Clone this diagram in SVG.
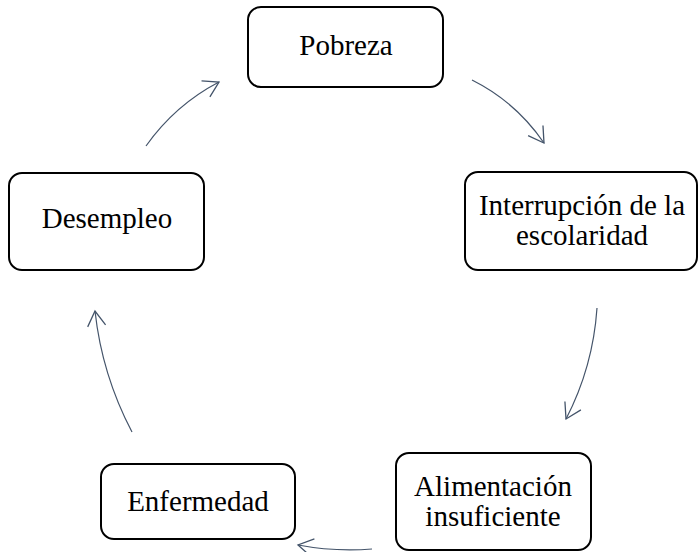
<svg xmlns="http://www.w3.org/2000/svg" width="698" height="552" viewBox="0 0 698 552">
<defs>
<style>
.box{fill:#fff;stroke:#000;stroke-width:2}
.t{font-family:"Liberation Serif","Times New Roman",serif;font-size:29px;fill:#000;text-anchor:middle}
.c{fill:none;stroke:#44546a;stroke-width:1.2}
</style>
<marker id="ah" markerUnits="userSpaceOnUse" markerWidth="30" markerHeight="30" viewBox="-20 -15 30 30" refX="0" refY="0" orient="auto" overflow="visible">
<path d="M-15,-9 L0,0 L-15,9" fill="none" stroke="#44546a" stroke-width="1.3"/>
</marker>
</defs>
<rect width="698" height="552" fill="#fff"/>
<g id="connectors">
<path class="c" d="M472,80 Q516,102 544,143" marker-end="url(#ah)"/>
<path class="c" d="M597,308 Q593,367 566,419" marker-end="url(#ah)"/>
<path class="c" d="M372,549 Q335,552 298,545" marker-end="url(#ah)"/>
<path class="c" d="M132,432 Q102,375 95,311" marker-end="url(#ah)"/>
<path class="c" d="M146,146 Q175,105 219,82" marker-end="url(#ah)"/>
</g>
<g id="pobreza">
<rect class="box" x="248" y="7" width="195" height="80" rx="13"/>
<text class="t" x="346" y="55">Pobreza</text>
</g>
<g id="interrupcion">
<rect class="box" x="465" y="172" width="232" height="98" rx="13"/>
<text class="t" x="582" y="215">Interrupción de la</text>
<text class="t" x="582" y="245">escolaridad</text>
</g>
<g id="alimentacion">
<rect class="box" x="396" y="453" width="195" height="97" rx="13"/>
<text class="t" x="493" y="496">Alimentación</text>
<text class="t" x="493" y="526">insuficiente</text>
</g>
<g id="enfermedad">
<rect class="box" x="101" y="464" width="194" height="75" rx="13"/>
<text class="t" x="198" y="511">Enfermedad</text>
</g>
<g id="desempleo">
<rect class="box" x="9" y="173" width="195" height="97" rx="13"/>
<text class="t" x="107" y="228">Desempleo</text>
</g>
</svg>
